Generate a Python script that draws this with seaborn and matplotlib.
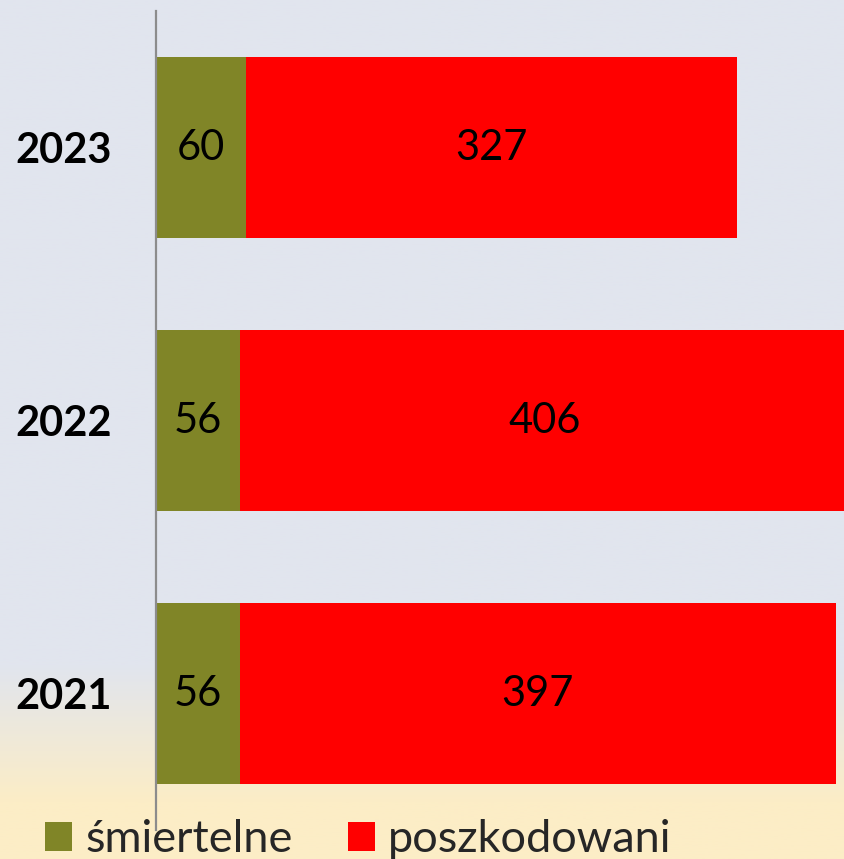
"""Stacked horizontal bars: fatal vs injured, 2021-2023."""

import matplotlib

matplotlib.use("Agg")

import matplotlib.pyplot as plt
import numpy as np
import pandas as pd
import seaborn as sns
from matplotlib.colors import LinearSegmentedColormap
from matplotlib.patches import Patch

years = ["2023", "2022", "2021"]
fatal = [60, 56, 56]
injured = [327, 406, 397]
series_labels = ["śmiertelne", "poszkodowani"]

GREEN = "#808527"
RED = "#ff0000"
BG_TOP = "#e1e5ee"
BG_BOTTOM = "#fcedc6"

df = pd.DataFrame({"year": years, "fatal": fatal, "injured": injured})
df["total"] = df["fatal"] + df["injured"]

sns.set_theme(style="white")
plt.rcParams["font.family"] = ["Lato", "DejaVu Sans"]

W, H = 844, 859
fig = plt.figure(figsize=(W / 100, H / 100), dpi=100)

# background gradient (grey-blue on top, cream at the bottom)
bg = fig.add_axes([0, 0, 1, 1], zorder=-10)
ys = np.linspace(0, 1, 400)
t = np.clip((ys - 0.775) / (0.935 - 0.775), 0, 1)
cmap = LinearSegmentedColormap.from_list("bg", [BG_TOP, BG_BOTTOM])
bg.imshow(t[:, None], aspect="auto", cmap=cmap, vmin=0, vmax=1, extent=[0, 1, 1, 0])
bg.set_axis_off()

ax = fig.add_axes([156 / W, 1 - 830 / H, 1 - 156 / W, (830 - 11) / H])
ax.set_facecolor("none")

sns.barplot(data=df, y="year", x="total", color=RED, width=0.66, ax=ax,
            orient="h", order=years, saturation=1, linewidth=0)
sns.barplot(data=df, y="year", x="fatal", color=GREEN, width=0.66, ax=ax,
            orient="h", order=years, saturation=1, linewidth=0)

ax.set_xlim(0, (W - 156) / 1.5)
ax.set_ylim(2.5, -0.5)

fs = 30
for i, (f, inj) in enumerate(zip(fatal, injured)):
    ax.text(f / 2, i, str(f), ha="center", va="center", fontsize=fs, color="black")
    ax.text(f + inj / 2, i, str(inj), ha="center", va="center", fontsize=fs, color="black")

ax.set_xlabel("")
ax.set_ylabel("")
ax.set_xticks([])
ax.tick_params(axis="y", length=0, pad=32)
for lab in ax.get_yticklabels():
    lab.set_fontsize(fs)
    lab.set_fontweight("bold")
    lab.set_color("black")

for side in ["top", "right", "bottom"]:
    ax.spines[side].set_visible(False)
ax.spines["left"].set_color("#8c8c8c")
ax.spines["left"].set_linewidth(1.6)

lfs = 32.5
handles = [Patch(facecolor=GREEN, edgecolor="none"), Patch(facecolor=RED, edgecolor="none")]
fig.legend(handles, series_labels, loc="center left",
           bbox_to_anchor=(45 / W, 1 - 840 / H), ncol=2, frameon=False,
           fontsize=lfs, handlelength=0.6, handleheight=0.6,
           handletextpad=0.29, columnspacing=1.22, borderpad=0, borderaxespad=0)

fig.savefig("out.png", dpi=100)
plt.close(fig)
